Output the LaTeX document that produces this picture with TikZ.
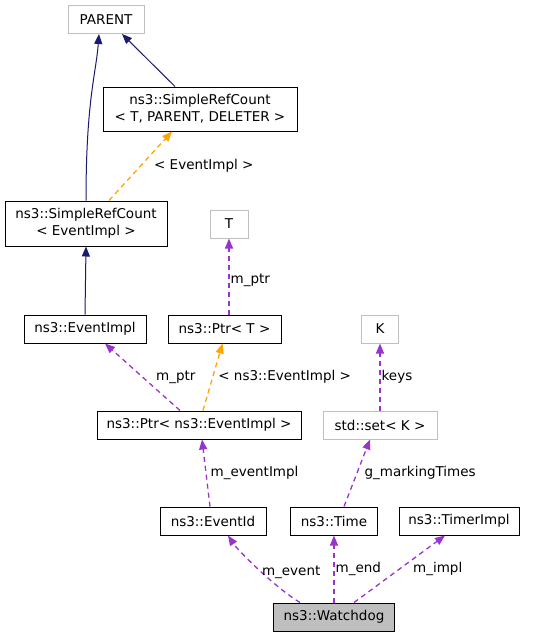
\documentclass[tikz,border=0pt]{standalone}
\usepackage{fontspec}
\setmainfont{DejaVu Sans}
\usetikzlibrary{arrows.meta}
\definecolor{inhblue}{RGB}{25,25,112}
\definecolor{usepurple}{RGB}{154,50,205}
\definecolor{tplorange}{RGB}{255,165,0}
\definecolor{boxgray}{RGB}{191,191,191}
\begin{document}
\begin{tikzpicture}[x=1pt, y=-1pt,
    box/.style={draw=black, line width=1pt, rectangle, minimum height=28pt, inner sep=2pt,
      font=\fontsize{13.5}{17}\selectfont, align=center},
    ext/.style={box, draw=boxgray},
    inh/.style={color=inhblue, line width=1pt, -{Triangle[length=10pt, width=8pt]}},
    use/.style={color=usepurple, line width=1.3pt, dash pattern=on 5pt off 4pt, -{Triangle[length=10pt, width=8pt]}},
    tpl/.style={color=tplorange, line width=1.3pt, dash pattern=on 5pt off 4pt, -{Triangle[length=10pt, width=8pt]}},
    lbl/.style={font=\fontsize{13.5}{16}\selectfont, text=black, inner sep=1pt}]
  \useasboundingbox (0, 0) rectangle (533, 637) ;

  % classes
  \node[ext, minimum width=76pt] (parent) at (106, 19.5) {PARENT} ;
  \node[box, minimum width=194pt, minimum height=44pt] (srcfull) at (200, 109) {ns3::SimpleRefCount\\< T, PARENT, DELETER >} ;
  \node[box, minimum width=162pt, minimum height=45pt] (srcev) at (86, 223.5) {ns3::SimpleRefCount\\< EventImpl >} ;
  \node[ext, minimum width=38pt] (tparam) at (229, 224) {T} ;
  \node[box, minimum width=122pt] (evimpl) at (85, 329) {ns3::EventImpl} ;
  \node[box, minimum width=113pt] (ptrt) at (224.5, 329) {ns3::Ptr< T >} ;
  \node[ext, minimum width=37pt] (kparam) at (380, 329) {K} ;
  \node[box, minimum width=204pt] (ptrev) at (199, 425) {ns3::Ptr< ns3::EventImpl >} ;
  \node[ext, minimum width=114pt] (setk) at (380, 425) {std::set< K >} ;
  \node[box, minimum width=106pt] (evid) at (213, 521) {ns3::EventId} ;
  \node[box, minimum width=87pt] (time) at (334, 521) {ns3::Time} ;
  \node[box, minimum width=120pt] (timer) at (459, 521) {ns3::TimerImpl} ;
  \node[box, fill=boxgray, minimum width=121pt] (wdog) at (334, 617) {ns3::Watchdog} ;

  % inheritance
  \draw[inh] (srcev.north) .. controls +(0, -100) and +(-3, 40) .. ([xshift=-7pt]parent.south) ;
  \draw[inh] ([xshift=-25pt]srcfull.north) -- ([xshift=16pt]parent.south) ;
  \draw[inh] (evimpl.north) -- (srcev.south) ;

  % template instances
  \draw[tpl] ([xshift=23pt]srcev.north) -- ([xshift=-28pt]srcfull.south) node[lbl, pos=.5, right=12pt] {< EventImpl >} ;
  \draw[tpl] ([xshift=4pt]ptrev.north) -- ([xshift=-2pt]ptrt.south) node[lbl, pos=.5, right=4pt] {< ns3::EventImpl >} ;

  % members
  \draw[use] ([xshift=4.5pt]ptrt.north) -- (tparam.south) node[lbl, pos=.45, right] {m\_ptr} ;
  \draw[use] ([xshift=-19pt]ptrev.north) -- ([xshift=20pt]evimpl.south) node[lbl, pos=.5, right=12pt] {m\_ptr} ;
  \draw[use] (setk.north) -- (kparam.south) node[lbl, pos=.5, right] {keys} ;
  \draw[use] ([xshift=-3pt]evid.north) -- ([xshift=3pt]ptrev.south) node[lbl, pos=.5, right=3pt] {m\_eventImpl} ;
  \draw[use] ([xshift=10pt]time.north) -- ([xshift=-10pt]setk.south) node[lbl, pos=.5, right=6pt] {g\_markingTimes} ;
  \draw[use] ([xshift=-34pt]wdog.north) .. controls +(-25, -15) and +(10, 15) .. ([xshift=15pt]evid.south) node[lbl, pos=.5, right=2pt, yshift=-3pt] {m\_event} ;
  \draw[use] (wdog.north) -- (time.south) node[lbl, pos=.5, right] {m\_end} ;
  \draw[use] ([xshift=20pt]wdog.north) -- ([xshift=-14pt]timer.south) node[lbl, pos=.5, right=12pt] {m\_impl} ;
\end{tikzpicture}
\end{document}
